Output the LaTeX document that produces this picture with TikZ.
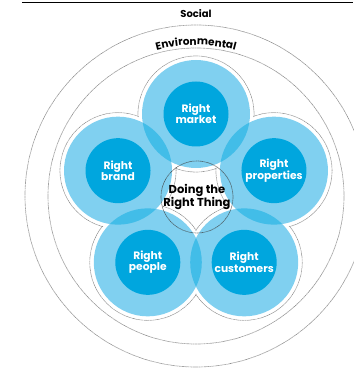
\documentclass[tikz,border=0pt]{standalone}
\usepackage{fontspec}
\setmainfont{Poppins}
\usetikzlibrary{decorations.text}

\definecolor{petalblue}{RGB}{128,208,240}
\definecolor{overlapblue}{RGB}{66,189,232}
\definecolor{coreblue}{RGB}{0,166,222}
\definecolor{ringgray}{RGB}{115,115,115}

\tikzset{
  ring/.style={draw=ringgray, dash pattern=on 0.5pt off 0.6pt, line width=0.65pt},
  core/.style={circle, fill=coreblue, minimum size=65pt, inner sep=0pt, align=center,
    text=white, font=\bfseries\fontsize{10.7}{11.5}\selectfont},
  hub/.style={circle, draw=black!75, dash pattern=on 0.5pt off 0.6pt, line width=0.65pt,
    minimum size=72pt, inner sep=0pt, align=center,
    font=\bfseries\fontsize{11.5}{12}\selectfont},
}

\begin{document}
\begin{tikzpicture}[x=1pt,y=1pt]
\useasboundingbox (-196,-173) rectangle (157,196);

% rule across the top
\coordinate (ruleL) at (-174,194);
\coordinate (ruleR) at (157,194);
\draw[line width=0.8pt] (ruleL) -- (ruleR);

% social and environmental rings
\draw[ring] (0,0) circle[radius=171pt];
\draw[ring] (0,0) circle[radius=148pt];
\node[font=\bfseries\fontsize{10}{10}\selectfont] (social) at (0,182) {Social};
\path[decorate, decoration={text along path, text align=center,
  text={|\bfseries\fontsize{10.5}{11}\selectfont|Environmental}}]
  (108:151pt) arc[start angle=108, end angle=72, radius=151pt];

% petal centres
\foreach \name/\ang in {market/90, brand/162, people/234, customers/306, properties/18}
  \coordinate (\name) at (\ang:82pt);

% outline round the flower
\foreach \name in {market, brand, people, customers, properties}
  \draw[ring] (\name) circle[radius=58pt];
\foreach \name in {market, brand, people, customers, properties}
  \fill[white] (\name) circle[radius=57.3pt];

% petals and their overlaps
\foreach \name in {market, brand, people, customers, properties}
  \fill[petalblue] (\name) circle[radius=54pt];
\foreach \a/\b in {market/brand, brand/people, people/customers, customers/properties, properties/market}
{
  \begin{scope}
    \clip (\a) circle[radius=54pt];
    \fill[overlapblue] (\b) circle[radius=54pt];
  \end{scope}
}

% inner circles
\node[core] (marketcore) at (market) {Right\\market};
\node[core] (brandcore) at (brand) {Right\\brand};
\node[core] (peoplecore) at (people) {Right\\people};
\node[core] (customerscore) at (customers) {Right\\customers};
\node[core] (propertiescore) at (properties) {Right\\properties};

\node[hub] (thing) at (1,-1) {Doing the\\Right Thing};
\end{tikzpicture}
\end{document}
